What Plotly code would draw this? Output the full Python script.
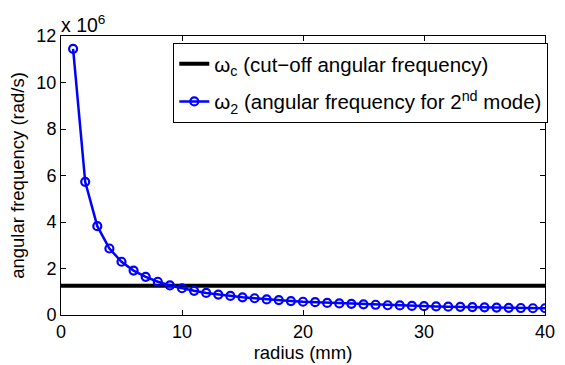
import plotly.graph_objects as go

# radius in mm
radius = list(range(1, 41))
# second-mode angular frequency, in units of 1e6 rad/s
omega2 = [11.45, 5.73, 3.82, 2.86, 2.29, 1.91, 1.64, 1.43, 1.27, 1.15,
          1.04, 0.95, 0.88, 0.82, 0.76, 0.72, 0.67, 0.64, 0.60, 0.57,
          0.55, 0.52, 0.50, 0.48, 0.46, 0.44, 0.42, 0.41, 0.39, 0.38,
          0.37, 0.36, 0.35, 0.34, 0.33, 0.32, 0.31, 0.30, 0.29, 0.29]
# cut-off angular frequency, in units of 1e6 rad/s
omega_c = 1.26
x_range = [0, 40]
y_ticks = [0, 2, 4, 6, 8, 10, 12]
x_ticks = [0, 10, 20, 30, 40]

FONT = "Liberation Sans, Arial, Helvetica, sans-serif"

fig = go.Figure()
fig.add_trace(go.Scatter(
    x=x_range, y=[omega_c, omega_c], mode="lines",
    line=dict(color="black", width=4), legendgroup="wc",
    name="ω<sub>c</sub> (cut−off angular frequency)"))
fig.add_trace(go.Scatter(
    x=radius, y=omega2, mode="lines+markers",
    line=dict(color="#0000ff", width=2.5), legendgroup="w2",
    marker=dict(symbol="circle-open", size=8, color="#0000ff",
                line=dict(width=2.2, color="#0000ff")),
    name="ω<sub>2</sub> (angular frequency for 2<sup>nd</sup> mode)"))

axis_common = dict(showline=True, linecolor="black", linewidth=1,
                   mirror="ticks", ticks="inside", ticklen=5,
                   tickcolor="black", showgrid=False, zeroline=False,
                   tickfont=dict(family=FONT, size=18, color="black"))

fig.update_xaxes(range=x_range, tickvals=x_ticks,
                 title=dict(text="radius (mm)", standoff=0,
                            font=dict(family=FONT, size=18.5, color="black")),
                 **axis_common)
fig.update_yaxes(range=[0, 12], tickvals=y_ticks,
                 title=dict(text="angular frequency (rad/s)", standoff=6,
                            font=dict(family=FONT, size=18.5, color="black")),
                 **axis_common)

fig.add_annotation(x=0, y=1, xref="paper", yref="paper",
                   xanchor="left", yanchor="bottom", showarrow=False,
                   text="x 10<sup>6</sup>", yshift=-2, xshift=-2,
                   font=dict(family=FONT, size=19.5, color="black"))

fig.update_layout(
    width=565, height=365,
    margin=dict(l=61, r=10, t=36, b=47),
    paper_bgcolor="white", plot_bgcolor="white",
    font=dict(family=FONT, color="black"),
    legend=dict(x=0.232, y=0.975, xanchor="left", yanchor="top",
                bgcolor="white", bordercolor="black", borderwidth=1,
                font=dict(family=FONT, size=20.5, color="black"),
                tracegroupgap=8),
)

fig.write_html("out.html")
